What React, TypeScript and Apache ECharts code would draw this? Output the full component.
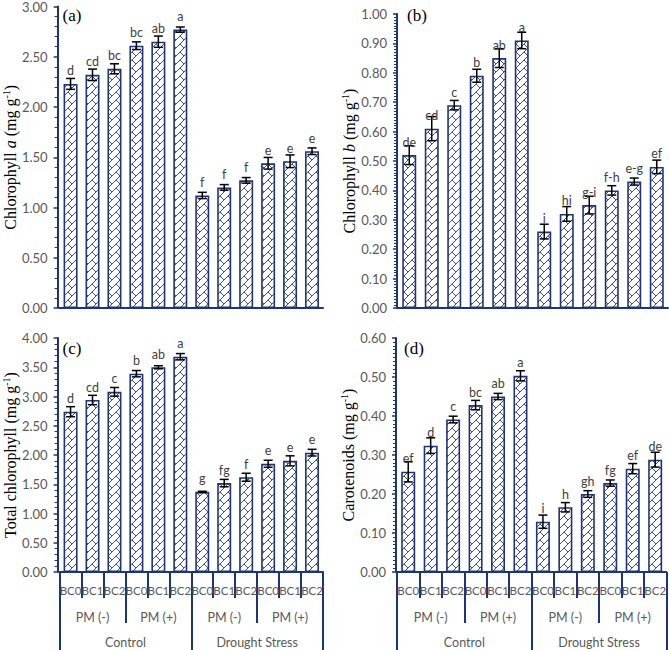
import React, { useEffect, useRef } from 'react';
import * as echarts from 'echarts';

// ---------- data ----------
const bcLabels = ['BC0', 'BC1', 'BC2', 'BC0', 'BC1', 'BC2', 'BC0', 'BC1', 'BC2', 'BC0', 'BC1', 'BC2'];
const pmLabels = ['PM (-)', 'PM (+)', 'PM (-)', 'PM (+)'];
const stressLabels = ['Control', 'Drought Stress'];

const chlA = [2.23, 2.32, 2.38, 2.61, 2.65, 2.77, 1.12, 1.2, 1.27, 1.44, 1.46, 1.56];
const chlAErr = [0.054, 0.057, 0.05, 0.038, 0.056, 0.026, 0.031, 0.028, 0.028, 0.058, 0.063, 0.033];
const chlALetters = ['d', 'cd', 'bc', 'bc', 'ab', 'a', 'f', 'f', 'f', 'e', 'e', 'e'];

const chlB = [0.52, 0.61, 0.69, 0.79, 0.85, 0.91, 0.26, 0.32, 0.35, 0.4, 0.43, 0.48];
const chlBErr = [0.032, 0.041, 0.016, 0.022, 0.032, 0.028, 0.025, 0.025, 0.03, 0.016, 0.012, 0.023];
const chlBLetters = ['de', 'cd', 'c', 'b', 'ab', 'a', 'i', 'hi', 'g-i', 'f-h', 'e-g', 'ef'];

const totalChl = [2.74, 2.94, 3.08, 3.39, 3.5, 3.68, 1.37, 1.52, 1.62, 1.85, 1.9, 2.04];
const totalChlErr = [0.086, 0.08, 0.074, 0.054, 0.026, 0.054, 0.01, 0.063, 0.068, 0.06, 0.086, 0.057];
const totalChlLetters = ['d', 'cd', 'c', 'b', 'ab', 'a', 'g', 'fg', 'f', 'e', 'e', 'e'];

const carot = [0.257, 0.324, 0.391, 0.428, 0.45, 0.503, 0.129, 0.166, 0.2, 0.228, 0.265, 0.288];
const carotErr = [0.026, 0.02, 0.0085, 0.012, 0.008, 0.013, 0.017, 0.012, 0.0085, 0.008, 0.013, 0.019];
const carotLetters = ['ef', 'd', 'c', 'bc', 'ab', 'a', 'i', 'h', 'gh', 'fg', 'ef', 'de'];

// ---------- styles ----------
const NAVY = '#1F3478';
const HATCH = '#3A5095';
const GRAY = '#595959';
const LETTER = '#404040';
const SANS = 'Lato';
const SERIF = '"Liberation Serif", "Times New Roman", serif';

function makeHatch(): HTMLCanvasElement {
  const n = 8;
  const c = document.createElement('canvas');
  c.width = n;
  c.height = n;
  const ctx = c.getContext('2d')!;
  ctx.fillStyle = '#ffffff';
  ctx.fillRect(0, 0, n, n);
  ctx.fillStyle = HATCH;
  for (let r = 0; r < n; r++) {
    ctx.fillRect(n - 1 - r, r, 1, 1);
    if (r >= n / 2) ctx.fillRect(r, r, 1, 1);
  }
  return c;
}

function titleRich(parts: { t: string; s?: 'i' | 's' }[]) {
  return parts.map((p) => `{${p.s || 't'}|${p.t}}`).join('');
}

const richStyle = {
  t: { fontFamily: SERIF, fontSize: 16, color: '#000', lineHeight: 18 },
  i: { fontFamily: SERIF, fontSize: 16, color: '#000', lineHeight: 18, fontStyle: 'italic' },
  s: { fontFamily: SERIF, fontSize: 10, color: '#000', lineHeight: 10, verticalAlign: 'top' },
};

function yAxis(grid: number, max: number, interval: number, minorSplit: number, offset: number, name: string) {
  return {
    type: 'value',
    gridIndex: grid,
    min: 0,
    max,
    interval,
    offset,
    axisLine: { show: true, lineStyle: { color: NAVY, width: 2 } },
    axisTick: { show: true, length: 4, lineStyle: { color: NAVY, width: 1.5 } },
    minorTick: { show: true, splitNumber: minorSplit, length: 3, lineStyle: { color: NAVY, width: 1 } },
    splitLine: { show: false },
    minorSplitLine: { show: false },
    axisLabel: {
      formatter: (v: number) => v.toFixed(2),
      color: GRAY,
      fontSize: 13,
      fontFamily: SANS,
      margin: 10,
    },
    name,
    nameLocation: 'middle',
    nameGap: 38,
    nameTextStyle: { fontFamily: SERIF, fontSize: 16, color: '#000', rich: richStyle },
  };
}

function plainX(grid: number) {
  return {
    type: 'category',
    gridIndex: grid,
    position: 'bottom',
    data: bcLabels,
    axisLine: { show: true, lineStyle: { color: NAVY, width: 2 } },
    axisTick: { show: false },
    axisLabel: { show: false },
  };
}

function levelX(grid: number, labels: string[], tickLen: number, margin: number, fontSize: number, showLine: boolean) {
  return {
    type: 'category',
    gridIndex: grid,
    position: 'bottom',
    offset: 0,
    data: labels.map((_, i) => 'k' + i),
    axisLine: { show: showLine, lineStyle: { color: NAVY, width: 2 } },
    axisTick: { show: true, interval: 0, length: tickLen, lineStyle: { color: NAVY, width: 2 } },
    axisLabel: {
      interval: 0,
      margin,
      color: GRAY,
      fontSize,
      fontFamily: SANS,
      formatter: (_v: string, i: number) => labels[i],
    },
    splitLine: { show: false },
  };
}

function barSeries(xi: number, yi: number, values: number[], hatch: HTMLCanvasElement) {
  return {
    type: 'bar',
    xAxisIndex: xi,
    yAxisIndex: yi,
    data: values,
    barWidth: 14,
    itemStyle: {
      color: { image: hatch, repeat: 'repeat' },
      borderColor: NAVY,
      borderWidth: 1.6,
    },
    z: 2,
  };
}

function errSeries(xi: number, yi: number, values: number[], errs: number[], letters: string[]) {
  return {
    type: 'custom',
    xAxisIndex: xi,
    yAxisIndex: yi,
    data: values.map((v, i) => [i, v, errs[i]]),
    z: 10,
    renderItem: (params: any, api: any) => {
      const i = api.value(0);
      const v = api.value(1);
      const e = api.value(2);
      const top = api.coord([i, v + e]);
      const bot = api.coord([i, v - e]);
      const bar = api.coord([i, v]);
      const cap = 4.5;
      const ls = { stroke: '#000', lineWidth: 1.5 };
      return {
        type: 'group',
        children: [
          { type: 'line', shape: { x1: top[0], y1: top[1], x2: bot[0], y2: bot[1] }, style: ls },
          { type: 'line', shape: { x1: top[0] - cap, y1: top[1], x2: top[0] + cap, y2: top[1] }, style: ls },
          { type: 'line', shape: { x1: bot[0] - cap, y1: bot[1], x2: bot[0] + cap, y2: bot[1] }, style: ls },
          {
            type: 'text',
            x: bar[0],
            y: bar[1] - 13,
            style: {
              text: letters[params.dataIndex],
              fill: LETTER,
              fontSize: 12.5,
              fontFamily: SANS,
              align: 'center',
              verticalAlign: 'middle',
            },
          },
        ],
      };
    },
  };
}

function buildOption() {
  const hatch = makeHatch();
  const grids = [
    { left: 54, top: 5, width: 269, height: 303 },
    { left: 398, top: 14, width: 270, height: 294 },
    { left: 55, top: 338, width: 268, height: 234 },
    { left: 397, top: 338, width: 271, height: 234 },
  ];
  const xAxes = [
    plainX(0),
    plainX(1),
    levelX(2, bcLabels, 26, 12, 11.5, true),
    levelX(2, pmLabels, 51, 39, 12.5, false),
    levelX(2, stressLabels, 80, 64, 12.5, false),
    levelX(3, bcLabels, 26, 12, 11.5, true),
    levelX(3, pmLabels, 51, 39, 12.5, false),
    levelX(3, stressLabels, 80, 64, 12.5, false),
  ];
  const yAxes = [
    yAxis(0, 3, 0.5, 5, 2, titleRich([{ t: 'Chlorophyll ' }, { t: 'a', s: 'i' }, { t: ' (mg g' }, { t: '-1', s: 's' }, { t: ')' }])),
    yAxis(1, 1, 0.1, 10, 1, titleRich([{ t: 'Chlorophyll ' }, { t: 'b', s: 'i' }, { t: ' (mg g' }, { t: '-1', s: 's' }, { t: ')' }])),
    yAxis(2, 4, 0.5, 5, 2, titleRich([{ t: 'Total chlorophyll (mg g' }, { t: '-1', s: 's' }, { t: ')' }])),
    yAxis(3, 0.6, 0.1, 10, 1, titleRich([{ t: 'Carotenoids (mg g' }, { t: '-1', s: 's' }, { t: ')' }])),
  ];
  const series = [
    barSeries(0, 0, chlA, hatch),
    errSeries(0, 0, chlA, chlAErr, chlALetters),
    barSeries(1, 1, chlB, hatch),
    errSeries(1, 1, chlB, chlBErr, chlBLetters),
    barSeries(2, 2, totalChl, hatch),
    errSeries(2, 2, totalChl, totalChlErr, totalChlLetters),
    barSeries(5, 3, carot, hatch),
    errSeries(5, 3, carot, carotErr, carotLetters),
  ];
  const panel = (text: string, x: number, y: number) => ({
    type: 'text',
    x,
    y,
    style: { text, fill: '#000', fontSize: 17, fontFamily: SERIF, align: 'center', verticalAlign: 'middle' },
    z: 20,
  });
  return {
    animation: false,
    backgroundColor: '#ffffff',
    grid: grids,
    xAxis: xAxes,
    yAxis: yAxes,
    series,
    graphic: [panel('(a)', 72, 15), panel('(b)', 417, 15), panel('(c)', 72, 348), panel('(d)', 414, 348)],
  };
}

export default function App() {
  const ref = useRef<HTMLDivElement>(null);
  useEffect(() => {
    document.body.style.margin = '0';
    const chart = echarts.init(ref.current!, undefined, { renderer: 'svg' });
    chart.setOption(buildOption() as any);
    return () => chart.dispose();
  }, []);
  return <div ref={ref} style={{ position: 'absolute', left: 0, top: 0, width: 669, height: 650 }} />;
}
